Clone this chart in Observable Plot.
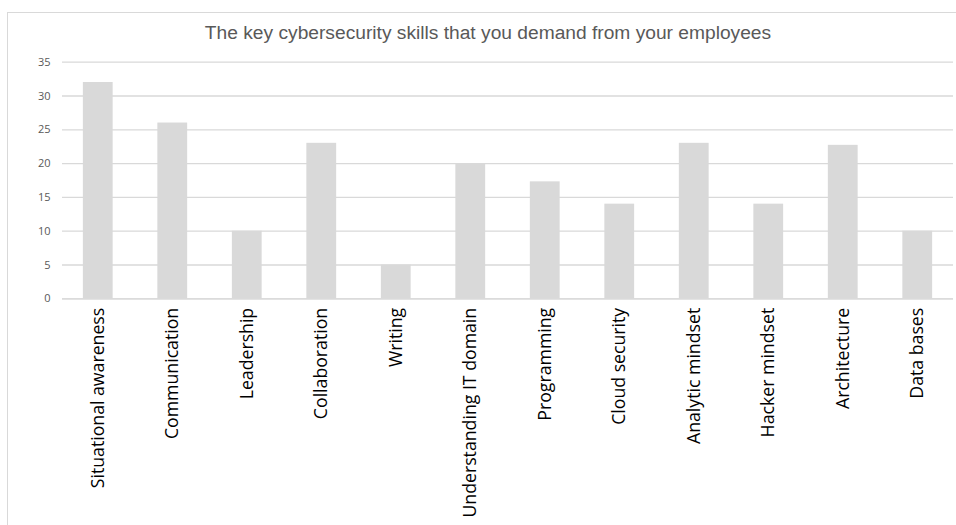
<!DOCTYPE html>
<html>
<head>
<meta charset="utf-8">
<script src="https://cdn.jsdelivr.net/npm/d3@7"></script>
<script src="https://cdn.jsdelivr.net/npm/@observablehq/plot@0.6"></script>
<style>
  html, body { margin: 0; padding: 0; background: #fff; }
  #wrap { position: relative; width: 956px; height: 525px; overflow: hidden; }
  #frame { position: absolute; left: 7px; top: 12px; right: 0; bottom: 0;
           border-top: 1px solid #d9d9d9; border-left: 1px solid #d9d9d9; pointer-events: none; }
  #title { position: absolute; left: 0; top: 22px; width: 976px; text-align: center;
           font-family: "Liberation Sans", Arial, sans-serif; font-size: 19.2px; color: #595959; }
  #chart { position: absolute; left: 0; top: 50px; }
</style>
</head>
<body>
<div id="wrap">
  <div id="frame"></div>
  <div id="title">The key cybersecurity skills that you demand from your employees</div>
  <div id="chart"></div>
</div>
<script>
const skills = ["Situational awareness", "Communication", "Leadership", "Collaboration", "Writing",
  "Understanding IT domain", "Programming", "Cloud security", "Analytic mindset", "Hacker mindset",
  "Architecture", "Data bases"];
const counts = [32, 26, 10, 23, 5, 20, 17.3, 14, 23, 14, 22.7, 10];
const yTicks = [0, 5, 10, 15, 20, 25, 30, 35];

const data = skills.map((s, i) => ({skill: s, value: counts[i]}));

const chart = Plot.plot({
  width: 956,
  height: 475,
  marginTop: 11.7,
  marginBottom: 226.7,
  marginLeft: 62,
  marginRight: 3,
  style: {background: "transparent"},
  x: {domain: skills, paddingInner: 0.6, paddingOuter: 0.28, round: false, label: null},
  y: {domain: [0, 35], label: null},
  marks: [
    Plot.gridY(yTicks, {stroke: "#d9d9d9", strokeOpacity: 1, strokeWidth: 1.3}),
    Plot.barY(data, {x: "skill", y: "value", fill: "#d9d9d9"}),
    Plot.ruleY([0], {stroke: "#d9d9d9", strokeWidth: 1.3}),
    Plot.axisY(yTicks, {tickSize: 0, tickPadding: 12, fontSize: 11, fill: "#595959",
      fontFamily: "Open Sans, sans-serif", label: null}),
    Plot.axisX({tickSize: 0, tickPadding: 9, tickRotate: -90, fontSize: 17.7, fill: "#000",
      fontFamily: "Open Sans, sans-serif", label: null})
  ]
});
document.getElementById("chart").appendChild(chart);
</script>
</body>
</html>
